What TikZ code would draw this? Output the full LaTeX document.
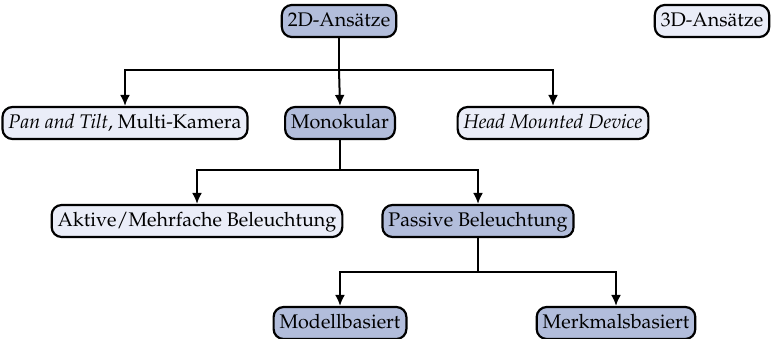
\documentclass[tikz,border=0pt]{standalone}
\usepackage[T1]{fontenc}
\usepackage{mathpazo}
\usetikzlibrary{arrows.meta}
\definecolor{darkfill}{RGB}{178,189,219}
\definecolor{lightfill}{RGB}{234,237,248}
\tikzset{
  box/.style={draw=black, line width=1.1pt, rounded corners=5pt, inner xsep=3pt,
    minimum height=16pt, text height=7pt, text depth=2pt,
    font=\fontsize{9.85}{12}\selectfont},
  dark/.style={box, fill=darkfill},
  light/.style={box, fill=lightfill},
  link/.style={line width=1pt},
  arr/.style={link, -{Latex[length=5.5pt,width=5pt]}}
}
\begin{document}
\begin{tikzpicture}[x=0.5pt,y=-0.5pt]
\useasboundingbox (0,0) rectangle (775,338);

\node[dark]  (twod)  at (339,21)  {2D-Ans\"atze};
\node[light] (threed) at (712,21) {3D-Ans\"atze};

\node[light] (pan)  at (125,123) {\textit{Pan and Tilt}, Multi-Kamera};
\node[dark]  (mono) at (340,123) {Monokular};
\node[light] (hmd)  at (553,123) {\textit{Head Mounted Device}};

\node[light] (akt) at (197,221) {Aktive/Mehrfache Beleuchtung};
\node[dark]  (pas) at (478,221) {Passive Beleuchtung};

\node[dark] (mod) at (340,323) {Modellbasiert};
\node[dark] (mer) at (616,323) {Merkmalsbasiert};

% branching points
\coordinate (j1) at (twod.south |- 0,70);
\coordinate (j2) at (mono.south |- 0,170);
\coordinate (j3) at (pas.south |- 0,272);

\draw[link] (twod.south) -- (j1);
\draw[arr] (j1) -| (pan.north);
\draw[arr] (j1) -| (hmd.north);
\draw[arr] (j1) -- (mono.north);

\draw[link] (mono.south) -- (j2);
\draw[arr] (j2) -| (akt.north);
\draw[arr] (j2) -| (pas.north);

\draw[link] (pas.south) -- (j3);
\draw[arr] (j3) -| (mod.north);
\draw[arr] (j3) -| (mer.north);
\end{tikzpicture}
\end{document}
